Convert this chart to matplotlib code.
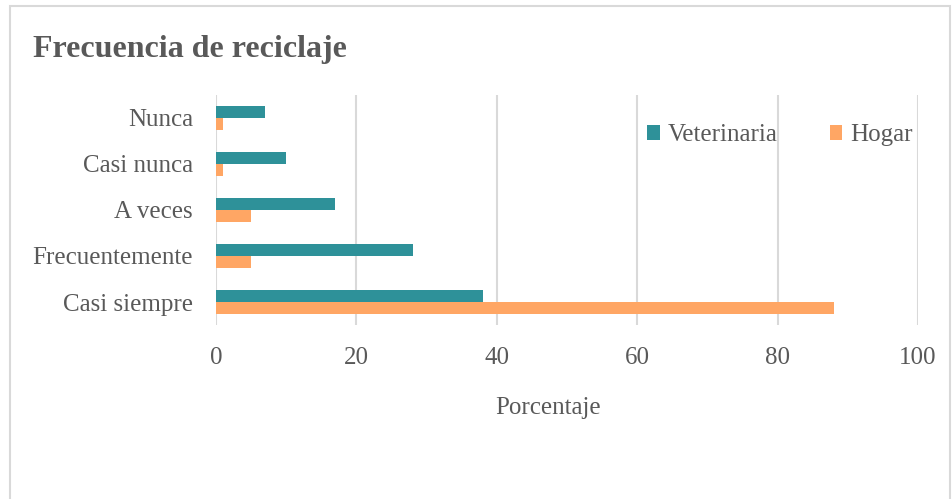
import numpy as np
import matplotlib.pyplot as plt
from matplotlib.patches import Rectangle

categorias = ['Casi siempre', 'Frecuentemente', 'A veces', 'Casi nunca', 'Nunca']
veterinaria = [38, 28, 17, 10, 7]
hogar = [88, 5, 5, 1, 1]
xticks = [0, 20, 40, 60, 80, 100]

plt.rcParams['font.family'] = ['Liberation Serif', 'DejaVu Serif']
gris = '#595959'
fs = 18

fig = plt.figure(figsize=(9.53, 4.99), dpi=100)
fig.patches.append(Rectangle((10 / 953, -0.01), 940 / 953, 1 - 6 / 499 + 0.01,
                             transform=fig.transFigure, fill=False,
                             edgecolor='#D9D9D9', linewidth=1.5))

ax = fig.add_axes([216 / 953, 1 - 325 / 499, 702 / 953, 230 / 499])

y = np.arange(len(categorias))
h = 0.26
ax.barh(y + h / 2, veterinaria, height=h, color='#2E9199', label='Veterinaria')
ax.barh(y - h / 2, hogar, height=h, color='#FFA664', label='Hogar')

ax.set_xlim(0, 100)
ax.set_ylim(-0.5, 4.5)
ax.set_xticks(xticks)
ax.set_yticks(y)
ax.set_yticklabels(categorias)
ax.tick_params(axis='both', length=0, labelsize=fs, colors=gris)
ax.tick_params(axis='x', pad=15.5)
ax.tick_params(axis='y', pad=16.5)
for s in ax.spines.values():
    s.set_visible(False)
ax.grid(axis='x', color='#D9D9D9', linewidth=1.5)
ax.set_axisbelow(True)

ax.set_xlabel('Porcentaje', fontsize=fs, color=gris)
ax.xaxis.set_label_coords(332 / 702, -72 / 230)

ax.legend(loc='upper right', bbox_to_anchor=(1.024, 0.97), ncol=2, frameon=False,
          fontsize=fs, labelcolor=gris, handlelength=0.5, handleheight=0.5,
          handletextpad=0.3, columnspacing=2.1)

fig.text(33 / 953, 1 - 49 / 499, 'Frecuencia de reciclaje', fontsize=23,
         fontweight='bold', color=gris, va='center', ha='left')

fig.savefig('out.png', dpi=100)
